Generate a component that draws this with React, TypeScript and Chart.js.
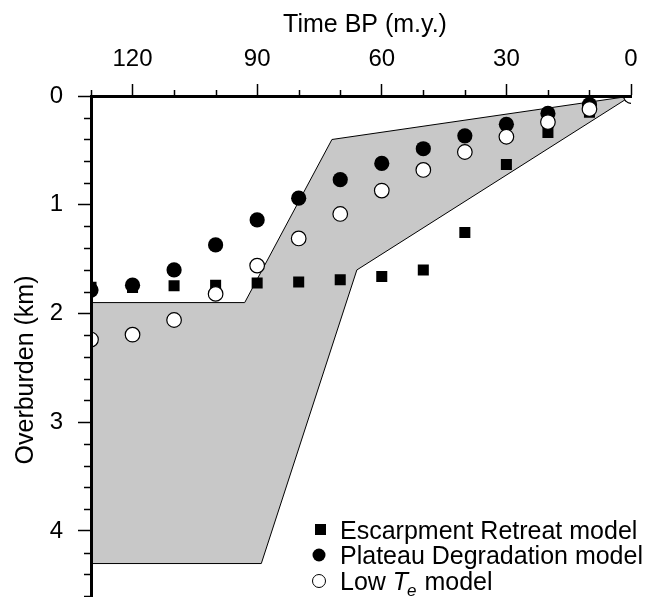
import React, { useEffect, useRef } from "react";
import { Chart, registerables } from "chart.js";

Chart.register(...registerables);

// ---- data ----
const timeBP = [130, 120, 110, 100, 90, 80, 70, 60, 50, 40, 30, 20, 10, 0];
const escarpmentRetreat = [1.76, 1.76, 1.745, 1.74, 1.72, 1.71, 1.69, 1.66, 1.6, 1.255, 0.63, 0.335, 0.15, 0];
const plateauDegradation = [1.785, 1.74, 1.6, 1.37, 1.14, 0.94, 0.77, 0.62, 0.485, 0.366, 0.26, 0.16, 0.08, 0];
const lowTe = [2.24, 2.195, 2.06, 1.82, 1.56, 1.31, 1.085, 0.87, 0.68, 0.515, 0.375, 0.24, 0.12, 0];

// shaded envelope polygon (time, depth)
const envelopeTime = [0, 72, 93, 136, 136, 89, 66, 0];
const envelopeDepth = [0, 0.4, 1.9, 1.9, 4.3, 4.3, 1.6, 0];

const xMajorTicks = [120, 90, 60, 30, 0];
const yMajorTicks = [0, 1, 2, 3, 4];

const xTitle = "Time BP (m.y.)";
const yTitle = "Overburden (km)";
const legendLabels = ["Escarpment Retreat model", "Plateau Degradation model"];

const FONT = "'Liberation Sans', Arial, Helvetica, sans-serif";

const pts = (xs: number[], ys: number[]) => xs.map((x, i) => ({ x, y: ys[i] }));

const isMajorX = (v: number) => xMajorTicks.some((t) => Math.abs(t - v) < 1e-6);
const isMajorY = (v: number) => yMajorTicks.some((t) => Math.abs(t - v) < 1e-6);

const decorPlugin = {
  id: "decor",
  afterDraw(chart: any) {
    const ctx: CanvasRenderingContext2D = chart.ctx;
    const xs = chart.scales.x;
    const ys = chart.scales.y;
    ctx.save();
    ctx.strokeStyle = "#000";
    ctx.fillStyle = "#000";
    // minor ticks
    ctx.lineWidth = 1.5;
    for (let v = 0; v <= 130 + 1e-6; v += 10) {
      if (isMajorX(v)) continue;
      const px = Math.round(xs.getPixelForValue(v)) + 0.5;
      ctx.beginPath();
      ctx.moveTo(px, xs.bottom);
      ctx.lineTo(px, xs.bottom - 6);
      ctx.stroke();
    }
    for (let i = 0; i <= 23; i++) {
      const v = i * 0.2;
      if (isMajorY(v)) continue;
      const py = Math.round(ys.getPixelForValue(v)) + 0.5;
      ctx.beginPath();
      ctx.moveTo(ys.right, py);
      ctx.lineTo(ys.right - 7, py);
      ctx.stroke();
    }

    // axis titles
    ctx.font = `25px ${FONT}`;
    ctx.textAlign = "center";
    ctx.textBaseline = "alphabetic";
    ctx.fillText(xTitle, 365, 32);
    ctx.save();
    ctx.translate(33, 370);
    ctx.rotate(-Math.PI / 2);
    ctx.fillText(yTitle, 0, 0);
    ctx.restore();

    // legend
    const tx = 340;
    const rows = [539, 564, 590];
    ctx.textAlign = "left";
    ctx.fillRect(315, rows[0] - 15, 11, 11);
    ctx.fillText(legendLabels[0], tx, rows[0]);
    ctx.beginPath();
    ctx.arc(319, rows[1] - 9, 6.5, 0, Math.PI * 2);
    ctx.fill();
    ctx.fillText(legendLabels[1], tx, rows[1]);
    ctx.beginPath();
    ctx.arc(319, rows[2] - 9, 6.5, 0, Math.PI * 2);
    ctx.fillStyle = "#fff";
    ctx.fill();
    ctx.lineWidth = 1;
    ctx.stroke();
    ctx.fillStyle = "#000";
    let x = tx;
    const low = "Low ";
    ctx.fillText(low, x, rows[2]);
    x += ctx.measureText(low).width;
    ctx.font = `italic 25px ${FONT}`;
    ctx.fillText("T", x, rows[2]);
    x += ctx.measureText("T").width - 1;
    ctx.font = `italic 17px ${FONT}`;
    ctx.fillText("e", x, rows[2] + 6);
    x += ctx.measureText("e").width + 1;
    ctx.font = `25px ${FONT}`;
    ctx.fillText(" model", x, rows[2]);
    ctx.restore();
  },
};

export default function App() {
  const ref = useRef<HTMLCanvasElement | null>(null);
  useEffect(() => {
    if (!ref.current) return;
    const chart = new Chart(ref.current, {
      type: "scatter",
      data: {
        datasets: [
          {
            label: "Low Te model",
            data: pts(timeBP, lowTe),
            pointStyle: "circle",
            pointRadius: 7.3,
            pointBackgroundColor: "#fff",
            pointBorderColor: "#000",
            pointBorderWidth: 1.2,
            clip: 0,
            order: 1,
          } as any,
          {
            label: "Plateau Degradation model",
            data: pts(timeBP, plateauDegradation),
            pointStyle: "circle",
            pointRadius: 7.6,
            pointBackgroundColor: "#000",
            pointBorderColor: "#000",
            pointBorderWidth: 0,
            clip: 0,
            order: 2,
          } as any,
          {
            label: "Escarpment Retreat model",
            data: pts(timeBP, escarpmentRetreat),
            pointStyle: "rect",
            pointRadius: 7.8,
            pointBackgroundColor: "#000",
            pointBorderColor: "#000",
            pointBorderWidth: 0,
            clip: 0,
            order: 3,
          } as any,
          {
            type: "line",
            label: "envelope",
            data: pts(envelopeTime, envelopeDepth),
            borderColor: "#000",
            borderWidth: 1,
            backgroundColor: "#c8c8c8",
            fill: "shape",
            pointRadius: 0,
            tension: 0,
            showLine: true,
            clip: 0,
            order: 4,
          } as any,
        ],
      },
      options: {
        responsive: false,
        animation: false,
        devicePixelRatio: 1,
        layout: { padding: { top: 0, left: 0, right: 34, bottom: 0 } },
        plugins: { legend: { display: false }, tooltip: { enabled: false } },
        scales: {
          x: {
            type: "linear",
            position: "top",
            reverse: true,
            min: 0,
            max: 130,
            afterFit: (s: any) => {
              s.height = 96;
              s.paddingLeft = 0;
              s.paddingRight = 0;
            },
            ticks: {
              stepSize: 10,
              includeBounds: false,
              autoSkip: false,
              maxRotation: 0,
              color: "#000",
              padding: 10,
              font: { family: FONT, size: 24 },
              callback: (v: any) => (isMajorX(Number(v)) ? String(v) : ""),
            },
            grid: {
              drawOnChartArea: false,
              drawTicks: true,
              tickLength: 12,
              tickWidth: 1.5,
              tickColor: (c: any) => (c.tick && isMajorX(c.tick.value) ? "#000" : "rgba(0,0,0,0)"),
            },
            border: { display: true, color: "#000", width: 3, z: 1 },
          },
          y: {
            type: "linear",
            reverse: true,
            min: 0,
            max: 4.64,
            afterFit: (s: any) => {
              s.width = 91;
              s.paddingTop = 0;
              s.paddingBottom = 0;
            },
            ticks: {
              stepSize: 0.2,
              includeBounds: false,
              autoSkip: false,
              color: "#000",
              padding: 15,
              font: { family: FONT, size: 24 },
              callback: (v: any) => (isMajorY(Number(v)) ? String(Math.round(Number(v))) : ""),
            },
            grid: {
              drawOnChartArea: false,
              drawTicks: true,
              tickLength: 13,
              tickWidth: 1.5,
              tickColor: (c: any) => (c.tick && isMajorY(c.tick.value) ? "#000" : "rgba(0,0,0,0)"),
            },
            border: { display: true, color: "#000", width: 3, z: 1 },
          },
        },
      },
      plugins: [decorPlugin],
    } as any);
    return () => chart.destroy();
  }, []);

  return (
    <div style={{ position: "absolute", left: 0, top: 0, width: 665, height: 597, overflow: "hidden", background: "#fff" }}>
      <canvas ref={ref} width={665} height={609} style={{ display: "block" }} />
    </div>
  );
}
